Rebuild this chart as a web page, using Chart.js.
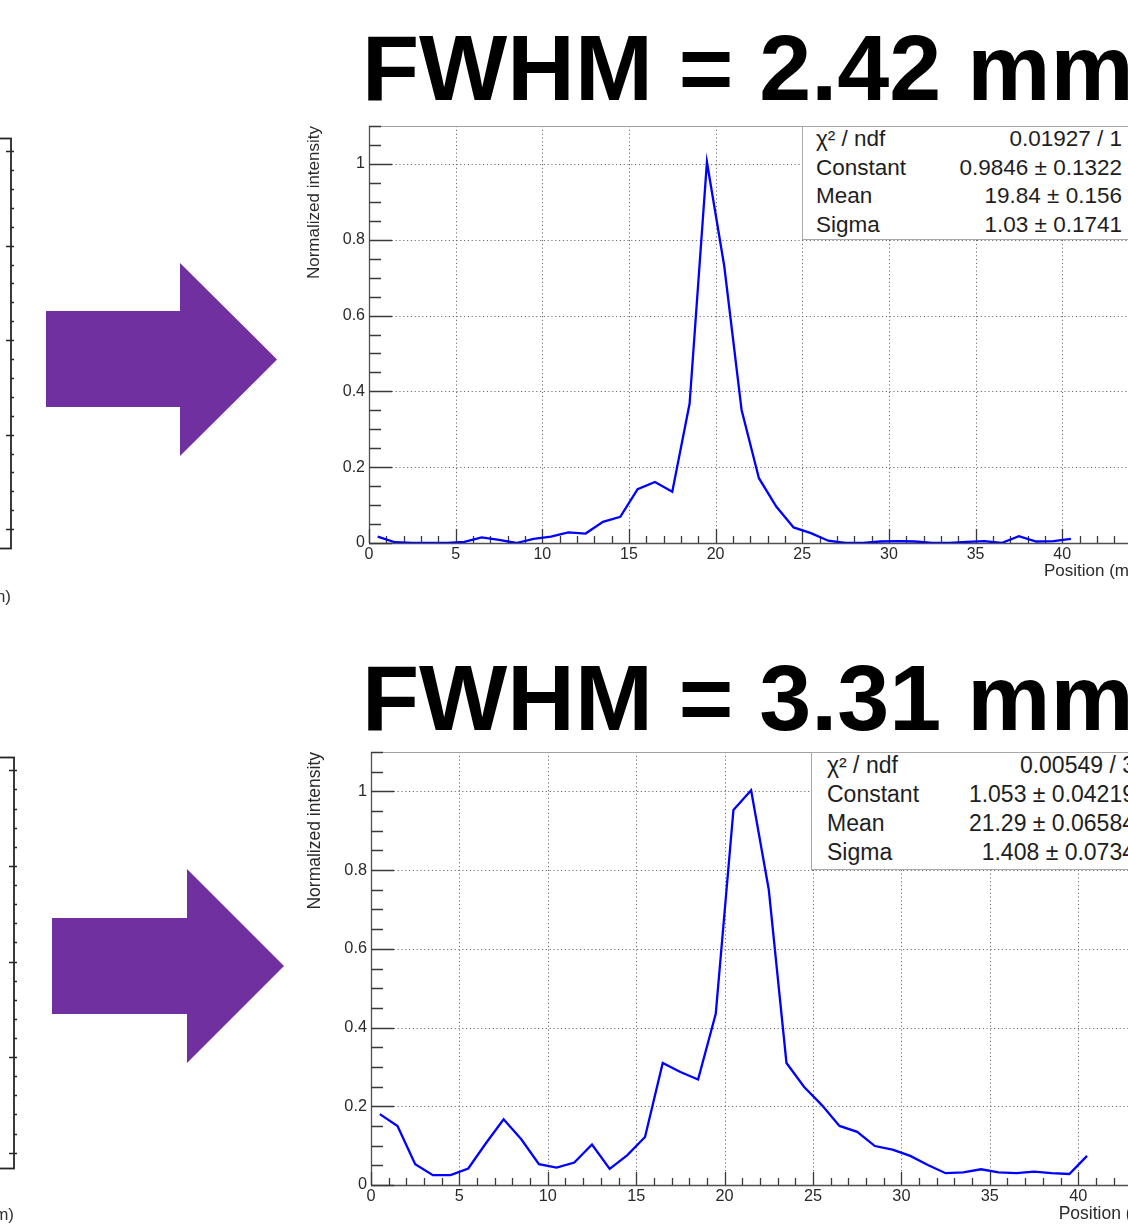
<!DOCTYPE html>
<html>
<head>
<meta charset="utf-8">
<script src="https://cdn.jsdelivr.net/npm/chart.js@4.4.1/dist/chart.umd.min.js"></script>
<style>
html, body { margin: 0; padding: 0; background: #fff; }
#page { position: relative; width: 1128px; height: 1230px; overflow: hidden; font-family: 'Liberation Sans', Arial, sans-serif; }
canvas { position: absolute; }
.fwhm { position: absolute; font-weight: bold; font-size: 93.5px; line-height: 93.5px; color: #000; white-space: nowrap; }
.stats { position: absolute; box-sizing: border-box; background: #fff; border: 1px solid #a8a8a8; color: #1e1e1e; white-space: nowrap; z-index: 2; }
.stats .row { display: flex; justify-content: space-between; }
#arrows { position: absolute; left: 0; top: 0; z-index: 3; }
</style>
</head>
<body>
<div id="page">
  <canvas id="fragTop" width="314" height="520" style="left:-300px; top:100px; width:314px; height:520px;"></canvas>
  <canvas id="fragBottom" width="317" height="500" style="left:-300px; top:730px; width:317px; height:500px;"></canvas>
  <canvas id="chartTop" width="1200" height="500" style="left:0; top:100px; width:1200px; height:500px;"></canvas>
  <canvas id="chartBottom" width="1220" height="500" style="left:0; top:730px; width:1220px; height:500px;"></canvas>

  <div class="fwhm" id="titleTop" style="left:362px; top:21px;"></div>
  <div class="fwhm" id="titleBottom" style="left:362px; top:651px;"></div>

  <div class="stats" id="statsTop" style="left:802px; top:126px; width:329px; height:114px; font-size:22.5px; line-height:28.5px; padding:0 8px 0 13px;"></div>
  <div class="stats" id="statsBottom" style="left:811px; top:752px; width:333px; height:118px; font-size:23px; line-height:29px; padding:0 8px 0 15px;"></div>

  <svg id="arrows" width="320" height="1230">
    <polygon points="46,311 180,311 180,263 277,359.5 180,456 180,407 46,407" fill="#7030a0"/>
    <polygon points="52,918 187,918 187,869 284,966 187,1063 187,1014 52,1014" fill="#7030a0"/>
  </svg>
</div>

<script>
// bin centres (mm)
const positionMm = [0.5, 1.5, 2.5, 3.5, 4.5, 5.5, 6.5, 7.5, 8.5, 9.5,
    10.5, 11.5, 12.5, 13.5, 14.5, 15.5, 16.5, 17.5, 18.5, 19.5,
    20.5, 21.5, 22.5, 23.5, 24.5, 25.5, 26.5, 27.5, 28.5, 29.5,
    30.5, 31.5, 32.5, 33.5, 34.5, 35.5, 36.5, 37.5, 38.5, 39.5, 40.5];

// normalized intensity, upper profile
const intensityTop = [0.017, 0.002, 0.0, 0.0, 0.0, 0.003, 0.015, 0.008, 0.0, 0.011,
    0.017, 0.028, 0.025, 0.056, 0.069, 0.142, 0.161, 0.135, 0.368, 1.005,
    0.73, 0.351, 0.171, 0.096, 0.041, 0.026, 0.006, 0.0, 0.0, 0.004,
    0.005, 0.004, 0.0, 0.0, 0.003, 0.005, 0.0, 0.018, 0.004, 0.005, 0.011];

// normalized intensity, lower profile
const intensityBottom = [0.180, 0.150, 0.053, 0.025, 0.025, 0.042, 0.106, 0.167, 0.116, 0.053,
    0.044, 0.057, 0.103, 0.041, 0.076, 0.122, 0.310, 0.287, 0.268, 0.435,
    0.953, 1.003, 0.750, 0.310, 0.249, 0.203, 0.150, 0.135, 0.099, 0.090,
    0.074, 0.051, 0.030, 0.032, 0.040, 0.032, 0.030, 0.034, 0.030, 0.028, 0.074];

const titles = ['FWHM = 2.42 mm', 'FWHM = 3.31 mm'];
const statNames = ['\u03c7\u00b2 / ndf', 'Constant', 'Mean', 'Sigma'];
const statsTop = ['0.01927 / 1', '0.9846 \u00b1 0.1322', '19.84 \u00b1 0.156', '1.03 \u00b1 0.1741'];
const statsBottom = ['0.00549 / 3', '1.053 \u00b1 0.04219', '21.29 \u00b1 0.06584', '1.408 \u00b1 0.0734'];

const xTitle = 'Position (mm)';
const yTitle = 'Normalized intensity';

// ticks of the cut-off axes at the left edge
const fragMajorTicks = [1, 6, 11, 16, 21];

Chart.defaults.font.family = "'Liberation Sans', Arial, sans-serif";

function ticksAlong(min, max, step, fn) {
    const n = Math.round((max - min) / step);
    for (let i = 0; i <= n; i++) fn(min + i * step);
}

function isMultiple(v, step) {
    const r = v / step;
    return Math.abs(r - Math.round(r)) < 1e-6;
}

// ROOT style frame: dotted grid, inner tick marks
const rootFrame = {
    id: 'rootFrame',
    beforeDatasetsDraw(chart, args, o) {
        const {ctx, chartArea: a} = chart;
        const xs = chart.scales.x, ys = chart.scales.y;
        const snap = v => Math.round(v) + 0.5;
        ctx.save();

        ctx.strokeStyle = '#6e6e6e';
        ctx.lineWidth = 1;
        ctx.setLineDash([1.2, 2.6]);
        ctx.beginPath();
        xs.ticks.forEach(t => {
            const px = snap(xs.getPixelForValue(t.value));
            if (px > a.left + 2 && px < a.right - 2) { ctx.moveTo(px, a.top); ctx.lineTo(px, a.bottom); }
        });
        ys.ticks.forEach(t => {
            const py = snap(ys.getPixelForValue(t.value));
            if (py > a.top + 2 && py < a.bottom - 2) { ctx.moveTo(a.left, py); ctx.lineTo(a.right, py); }
        });
        ctx.stroke();
        ctx.setLineDash([]);

        ctx.strokeStyle = '#a0a0a0';
        ctx.lineWidth = 1;
        ctx.strokeRect(snap(a.left), snap(a.top), Math.round(a.right - a.left), Math.round(a.bottom - a.top));

        ctx.strokeStyle = '#505050';
        ctx.lineWidth = 1.3;
        ctx.beginPath();
        ctx.moveTo(snap(a.left), a.top); ctx.lineTo(snap(a.left), a.bottom);
        ctx.moveTo(a.left, snap(a.bottom)); ctx.lineTo(a.right, snap(a.bottom));
        ctx.stroke();

        ctx.strokeStyle = '#3a3a3a';
        ctx.beginPath();
        ticksAlong(xs.min, xs.max, o.xMinor, v => {
            const px = snap(xs.getPixelForValue(v));
            const len = isMultiple(v, o.xMajor) ? o.xMajorLen : o.xMinorLen;
            ctx.moveTo(px, a.bottom); ctx.lineTo(px, a.bottom - len);
        });
        ticksAlong(ys.min, ys.max, o.yMinor, v => {
            const py = snap(ys.getPixelForValue(v));
            const len = isMultiple(v, o.yMajor) ? o.yMajorLen : o.yMinorLen;
            ctx.moveTo(a.left, py); ctx.lineTo(a.left + len, py);
        });
        ctx.stroke();
        ctx.restore();
    }
};

function drawProfile(id, values, g) {
    const tickFont = {size: g.tickSize, lineHeight: 1.2};
    const titleFont = {size: g.titleSize, lineHeight: 1};
    new Chart(document.getElementById(id), {
        type: 'line',
        data: {
            datasets: [{
                data: positionMm.map((x, i) => ({x: x, y: values[i]})),
                borderColor: '#0000ff',
                borderWidth: 2.3,
                pointRadius: 0,
                tension: 0,
                fill: false
            }]
        },
        options: {
            responsive: false,
            animation: false,
            events: [],
            layout: {
                padding: {
                    left: g.yTitleLeft,
                    top: g.plotTop - g.canvasTop,
                    right: g.canvasWidth - g.plotRight,
                    bottom: g.canvasTop + g.canvasHeight - g.xScaleBottom
                }
            },
            plugins: {
                legend: {display: false},
                tooltip: {enabled: false},
                rootFrame: {
                    xMinor: 1, xMajor: 5, xMajorLen: g.xMajorLen, xMinorLen: 7,
                    yMinor: 0.05, yMajor: 0.2, yMajorLen: 23, yMinorLen: 12
                }
            },
            scales: {
                x: {
                    type: 'linear', min: 0, max: 45,
                    grid: {display: false, drawTicks: false},
                    border: {display: false},
                    ticks: {stepSize: 5, padding: 2, maxRotation: 0, autoSkip: false, color: '#2a2a2a', font: tickFont},
                    title: {display: true, text: xTitle, align: 'end', color: '#2a2a2a', font: titleFont, padding: 0},
                    afterFit: s => { s.height = g.xScaleBottom - g.plotBottom; }
                },
                y: {
                    type: 'linear', min: 0, max: 1.1,
                    grid: {display: false, drawTicks: false},
                    border: {display: false},
                    ticks: {
                        stepSize: 0.2, includeBounds: false, padding: 4, color: '#2a2a2a', font: tickFont,
                        callback: v => String(Math.round(v * 10) / 10)
                    },
                    title: {display: true, text: yTitle, align: 'end', color: '#2a2a2a', font: titleFont, padding: 0},
                    afterFit: s => { s.width = g.plotLeft - g.yTitleLeft; }
                }
            }
        },
        plugins: [rootFrame]
    });
}

// right-hand axis of the neighbouring plot, cut by the page edge
const fragAxis = {
    id: 'fragAxis',
    afterDraw(chart) {
        const {ctx, chartArea: a} = chart;
        const ys = chart.scales.y;
        ctx.save();
        ctx.strokeStyle = '#262626';
        ctx.lineWidth = 1.8;
        ctx.strokeRect(a.left, Math.round(a.top) + 0.5, Math.round(a.right) - a.left, Math.round(a.bottom - a.top));
        const r = Math.round(a.right);
        ctx.beginPath();
        ticksAlong(1, 21, 1, v => {
            const py = Math.round(ys.getPixelForValue(v)) + 0.5;
            if (fragMajorTicks.includes(v)) { ctx.moveTo(r - 5, py); ctx.lineTo(r + 5, py); }
            else { ctx.moveTo(r, py); ctx.lineTo(r + 3, py); }
        });
        ctx.lineWidth = 1.4;
        ctx.stroke();
        ctx.restore();
    }
};

function drawFragment(id, g) {
    new Chart(document.getElementById(id), {
        type: 'line',
        data: {datasets: []},
        options: {
            responsive: false,
            animation: false,
            events: [],
            layout: {padding: {left: 10, top: g.top, right: 3, bottom: g.bottom}},
            plugins: {legend: {display: false}, tooltip: {enabled: false}},
            scales: {
                x: {
                    type: 'linear', min: 0, max: 45,
                    grid: {display: false, drawTicks: false},
                    border: {display: false},
                    ticks: {display: false},
                    title: {display: true, text: xTitle, align: 'end', color: '#333', font: {size: 17, lineHeight: 1}, padding: 0},
                    afterFit: s => { s.height = g.xHeight; }
                },
                y: {type: 'linear', position: 'right', min: g.min, max: g.max, display: false}
            }
        },
        plugins: [fragAxis]
    });
}

function fillStats(id, values) {
    const box = document.getElementById(id);
    const wrap = document.createElement('div');
    wrap.style.marginTop = '-2px';
    statNames.forEach((name, i) => {
        const row = document.createElement('div');
        row.className = 'row';
        const l = document.createElement('span');
        l.textContent = name;
        const v = document.createElement('span');
        v.textContent = values[i];
        row.appendChild(l);
        row.appendChild(v);
        wrap.appendChild(row);
    });
    box.appendChild(wrap);
}

document.getElementById('titleTop').textContent = titles[0];
document.getElementById('titleBottom').textContent = titles[1];
fillStats('statsTop', statsTop);
fillStats('statsBottom', statsBottom);

drawProfile('chartTop', intensityTop, {
    canvasTop: 100, canvasHeight: 500, canvasWidth: 1200,
    plotLeft: 369, plotTop: 126, plotBottom: 543, plotRight: 369 + 45 * 17.33,
    yTitleLeft: 306, xScaleBottom: 579.5,
    tickSize: 16, titleSize: 17, xMajorLen: 14
});

drawProfile('chartBottom', intensityBottom, {
    canvasTop: 730, canvasHeight: 500, canvasWidth: 1220,
    plotLeft: 371, plotTop: 752, plotBottom: 1185, plotRight: 371 + 45 * 17.68,
    yTitleLeft: 306, xScaleBottom: 1222.75,
    tickSize: 16.3, titleSize: 17.5, xMajorLen: 13
});

drawFragment('fragTop', {top: 38, bottom: 14.5, xHeight: 57.5, min: 0, max: 21.7});
drawFragment('fragBottom', {top: 27, bottom: 6.5, xHeight: 55.5, min: 0.2, max: 21.7});
</script>
</body>
</html>
